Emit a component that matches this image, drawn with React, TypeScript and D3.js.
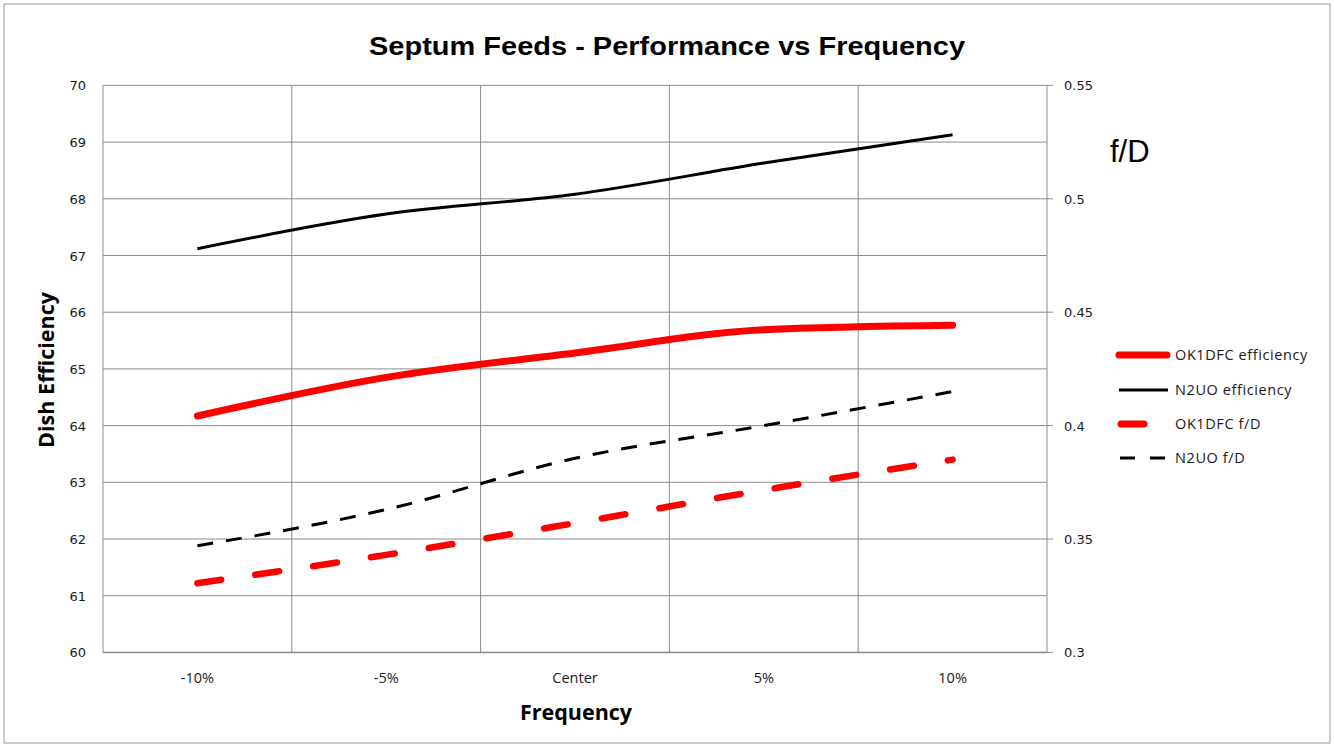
import React from "react";
import * as d3 from "d3";

const categories = ["-10%", "-5%", "Center", "5%", "10%"];
const ok1dfcEff = [64.17, 64.85, 65.28, 65.69, 65.77];
const n2uoEff = [67.12, 67.73, 68.08, 68.63, 69.13];
const ok1dfcFD = [0.3305, 0.343, 0.357, 0.3716, 0.385];
const n2uoFD = [0.347, 0.363, 0.3856, 0.4, 0.415];
const leftTicks = [60, 61, 62, 63, 64, 65, 66, 67, 68, 69, 70];
const rightTicks = [0.3, 0.35, 0.4, 0.45, 0.5, 0.55];

const W = 1334, H = 747;
const L = 103, R = 1047, T = 85.4, B = 652.4;

export default function App() {
  const x = d3.scaleBand<string>().domain(categories).range([L, R]);
  const xc = (c: string) => (x(c) as number) + x.bandwidth() / 2;
  const yL = d3.scaleLinear().domain([60, 70]).range([B, T]);
  const yR = d3.scaleLinear().domain([0.3, 0.55]).range([B, T]);
  const lineL = d3.line<number>().x((_, i) => xc(categories[i])).y((d) => yL(d)).curve(d3.curveMonotoneX);
  const lineR = d3.line<number>().x((_, i) => xc(categories[i])).y((d) => yR(d)).curve(d3.curveMonotoneX);
  const tickFont = "Verdana, 'DejaVu Sans', sans-serif";
  const calibri = "'Open Sans', 'Liberation Sans', sans-serif";
  const gridC = "#8c8c8c";
  const legend = [
    { label: "OK1DFC efficiency", color: "#ff0000", w: 7, dash: "", cap: "round", y: 355, x1: 1119, x2: 1167 },
    { label: "N2UO efficiency", color: "#000", w: 3, dash: "", cap: "butt", y: 390, x1: 1119, x2: 1168 },
    { label: "OK1DFC f/D", color: "#ff0000", w: 7, dash: "", cap: "round", y: 424, x1: 1121, x2: 1144 },
    { label: "N2UO f/D", color: "#000", w: 3, dash: "15 14", cap: "butt", y: 458, x1: 1120, x2: 1167 },
  ];
  return (
    <svg width={W} height={H} style={{ position: "absolute", left: 0, top: 0, background: "#fff" }}>
      <rect x={4} y={4} width={W - 8} height={H - 8} fill="#fff" stroke="#9a9a9a" strokeWidth={1} />
      <text x={667} y={55} textAnchor="middle" fontFamily="'Liberation Sans', Arial, sans-serif" fontWeight="bold" fontSize={26} textLength={596} lengthAdjust="spacingAndGlyphs" fill="#000">
        Septum Feeds - Performance vs Frequency
      </text>
      {leftTicks.map((t) => (
        <line key={"h" + t} x1={L} x2={R} y1={yL(t)} y2={yL(t)} stroke={gridC} strokeWidth={1} />
      ))}
      {categories.slice(1).map((c) => (
        <line key={"v" + c} x1={x(c) as number} x2={x(c) as number} y1={T} y2={B} stroke={gridC} strokeWidth={1} />
      ))}
      <line x1={L} x2={L} y1={T} y2={B} stroke={gridC} strokeWidth={1} />
      <line x1={R} x2={R} y1={T} y2={B} stroke={gridC} strokeWidth={1} />
      <line x1={L} x2={R} y1={B} y2={B} stroke={gridC} strokeWidth={1.5} />
      {rightTicks.map((t) => (
        <line key={"rt" + t} x1={R} x2={R + 6} y1={yR(t)} y2={yR(t)} stroke={gridC} strokeWidth={1} />
      ))}
      {leftTicks.map((t) => (
        <text key={"lt" + t} x={86} y={yL(t) + 5} textAnchor="end" fontFamily={tickFont} fontSize={13} fill="#1a1a1a">
          {t}
        </text>
      ))}
      {rightTicks.map((t) => (
        <text key={"rl" + t} x={1064} y={yR(t) + 5} textAnchor="start" fontFamily={tickFont} fontSize={13} fill="#1a1a1a">
          {t}
        </text>
      ))}
      {categories.map((c) => (
        <text key={"xl" + c} x={xc(c)} y={683} textAnchor="middle" fontFamily={calibri} fontSize={14.5} fill="#1a1a1a">
          {c}
        </text>
      ))}
      <text x={576} y={720} textAnchor="middle" fontFamily={calibri} fontWeight="bold" fontSize={21.5} fill="#000">
        Frequency
      </text>
      <text transform="translate(54,370) rotate(-90)" textAnchor="middle" fontFamily={calibri} fontWeight="bold" fontSize={21.5} fill="#000">
        Dish Efficiency
      </text>
      <text x={1110} y={162} fontFamily="'Liberation Sans', Arial, sans-serif" fontSize={31} fill="#000">
        f/D
      </text>
      <path d={lineR(n2uoFD) || ""} fill="none" stroke="#000" strokeWidth={3} strokeDasharray="16 13" />
      <path d={lineR(ok1dfcFD) || ""} fill="none" stroke="#ff0000" strokeWidth={6.5} strokeDasharray="24 34.5" strokeLinecap="round" />
      <path d={lineL(n2uoEff) || ""} fill="none" stroke="#000" strokeWidth={3} />
      <path d={lineL(ok1dfcEff) || ""} fill="none" stroke="#ff0000" strokeWidth={7} strokeLinecap="round" />
      {legend.map((g) => (
        <g key={g.label}>
          {g.dash === "15 14" ? (
            <>
              <line x1={1120} x2={1135} y1={g.y} y2={g.y} stroke={g.color} strokeWidth={g.w} />
              <line x1={1150} x2={1165} y1={g.y} y2={g.y} stroke={g.color} strokeWidth={g.w} />
            </>
          ) : (
            <line x1={g.x1} x2={g.x2} y1={g.y} y2={g.y} stroke={g.color} strokeWidth={g.w} strokeLinecap={g.cap as any} />
          )}
          <text x={1175} y={g.y + 5} fontFamily={calibri} fontSize={14.5} letterSpacing={0.6} fill="#1a1a1a">
            {g.label}
          </text>
        </g>
      ))}
    </svg>
  );
}
